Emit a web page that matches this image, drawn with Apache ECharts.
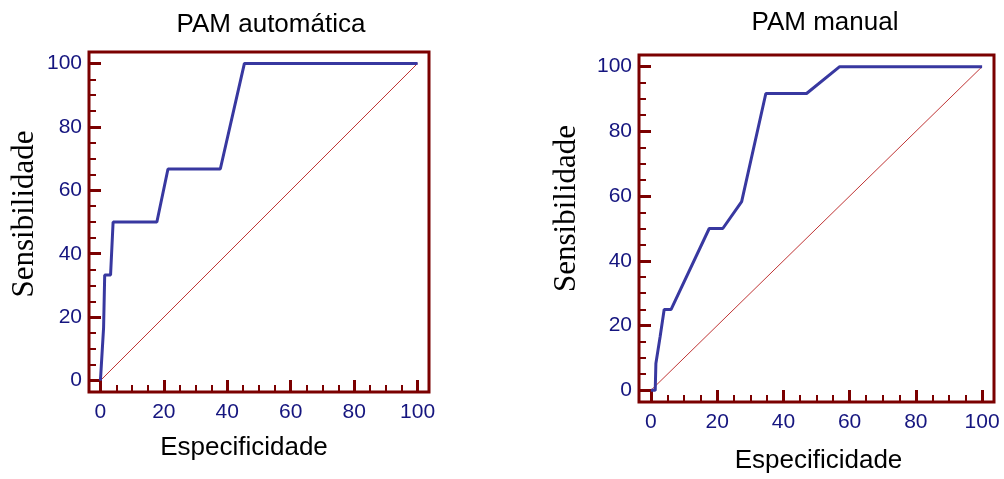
<!DOCTYPE html>
<html>
<head>
<meta charset="utf-8">
<script src="https://cdn.jsdelivr.net/npm/echarts@6/dist/echarts.min.js"></script>
<style>
  html, body { margin: 0; padding: 0; background: #fff; }
  #chart { width: 1004px; height: 479px; }
</style>
</head>
<body>
<div id="chart"></div>
<script>
// curva ROC - PAM automática
const autoSpec = [0, 0.6, 1.0, 1.35, 3.2, 4.0, 17.8, 21.3, 37.8, 45.4, 100];
const autoSens = [0, 0, 16.7, 33.3, 33.3, 50, 50, 66.7, 66.7, 100, 100];
// curva ROC - PAM manual
const manualSpec = [0, 1.3, 1.5, 2.8, 4.0, 6.1, 17.6, 21.7, 27.4, 34.7, 47.0, 57.0, 100];
const manualSens = [0, 0, 8.3, 16.7, 25, 25, 50, 50, 58.3, 91.7, 91.7, 100, 100];
// linha de referência
const diagX = [0, 100];
const diagY = [0, 100];
// marcas dos eixos
const majorTicks = [0, 20, 40, 60, 80, 100];
const minorTicks = [0, 5, 10, 15, 20, 25, 30, 35, 40, 45, 50, 55, 60, 65, 70, 75, 80, 85, 90, 95, 100];

const titles = ['PAM automática', 'PAM manual'];
const xName = 'Especificidade';
const yName = 'Sensibilidade';

const axisColor = '#7b0000';
const labelColor = '#15157f';
const rocColor = '#3838a0';
const diagColor = '#c03535';
const sans = 'Liberation Sans, Arial, sans-serif';
const serif = 'Liberation Serif, Times New Roman, serif';

const pairs = (xs, ys) => xs.map((x, i) => [x, ys[i]]);

const grids = [
  { left: 89, top: 52, width: 340, height: 340 },
  { left: 639, top: 55, width: 355, height: 354 }
];

const lo = -3.6, hi = 103.6;

function majorAxis(gridIndex, isX, extra) {
  return Object.assign({
    type: 'value',
    gridIndex: gridIndex,
    position: isX ? 'bottom' : 'left',
    min: lo,
    max: hi,
    axisLine: { show: false, onZero: false },
    splitLine: { show: false },
    axisTick: {
      show: true,
      inside: true,
      length: 12,
      customValues: majorTicks,
      lineStyle: { color: axisColor, width: 3 }
    },
    axisLabel: {
      customValues: majorTicks,
      color: labelColor,
      fontFamily: sans,
      fontSize: 21,
      margin: isX ? 10 : 7
    }
  }, extra);
}

// eixo só para as marcas menores (de 5 em 5)
function minorAxis(gridIndex, isX) {
  return {
    type: 'value',
    gridIndex: gridIndex,
    position: isX ? 'bottom' : 'left',
    min: lo,
    max: hi,
    axisLine: { show: false, onZero: false },
    splitLine: { show: false },
    axisLabel: { show: false },
    axisTick: {
      show: true,
      inside: true,
      length: 7,
      customValues: minorTicks,
      lineStyle: { color: axisColor, width: 2 }
    }
  };
}

const option = {
  animation: false,
  backgroundColor: '#fff',
  title: [
    { text: titles[0], left: 271, top: 12, textAlign: 'center', padding: 0,
      textStyle: { fontFamily: sans, fontSize: 26, fontWeight: 'normal', color: '#000' } },
    { text: titles[1], left: 825, top: 10, textAlign: 'center', padding: 0,
      textStyle: { fontFamily: sans, fontSize: 26, fontWeight: 'normal', color: '#000' } }
  ],
  grid: grids.map(g => Object.assign({ show: true, borderColor: axisColor, borderWidth: 3, backgroundColor: 'transparent' }, g)),
  xAxis: [
    majorAxis(0, true, {
      name: xName, nameLocation: 'middle', nameGap: 43,
      nameTextStyle: { fontFamily: sans, fontSize: 26, color: '#000', padding: [0, 30, 0, 0] }
    }),
    minorAxis(0, true),
    majorAxis(1, true, {
      name: xName, nameLocation: 'middle', nameGap: 46,
      nameTextStyle: { fontFamily: sans, fontSize: 26, color: '#000', padding: [0, 0, 0, 4] }
    }),
    minorAxis(1, true)
  ],
  yAxis: [
    majorAxis(0, false, {
      name: yName, nameLocation: 'middle', nameGap: 49,
      nameTextStyle: { fontFamily: serif, fontSize: 31, color: '#000', padding: [0, 0, 0, 16] }
    }),
    minorAxis(0, false),
    majorAxis(1, false, {
      name: yName, nameLocation: 'middle', nameGap: 57,
      nameTextStyle: { fontFamily: serif, fontSize: 31, color: '#000', padding: [0, 0, 0, 40] }
    }),
    minorAxis(1, false)
  ],
  series: [
    { type: 'line', xAxisIndex: 0, yAxisIndex: 0, data: pairs(diagX, diagY), showSymbol: false,
      lineStyle: { color: diagColor, width: 1 }, z: 2 },
    { type: 'line', xAxisIndex: 0, yAxisIndex: 0, data: pairs(autoSpec, autoSens), showSymbol: false,
      lineStyle: { color: rocColor, width: 3 }, z: 3 },
    { type: 'line', xAxisIndex: 2, yAxisIndex: 2, data: pairs(diagX, diagY), showSymbol: false,
      lineStyle: { color: diagColor, width: 1 }, z: 2 },
    { type: 'line', xAxisIndex: 2, yAxisIndex: 2, data: pairs(manualSpec, manualSens), showSymbol: false,
      lineStyle: { color: rocColor, width: 3 }, z: 3 }
  ]
};

const chart = echarts.init(document.getElementById('chart'));
chart.setOption(option);
</script>
</body>
</html>
